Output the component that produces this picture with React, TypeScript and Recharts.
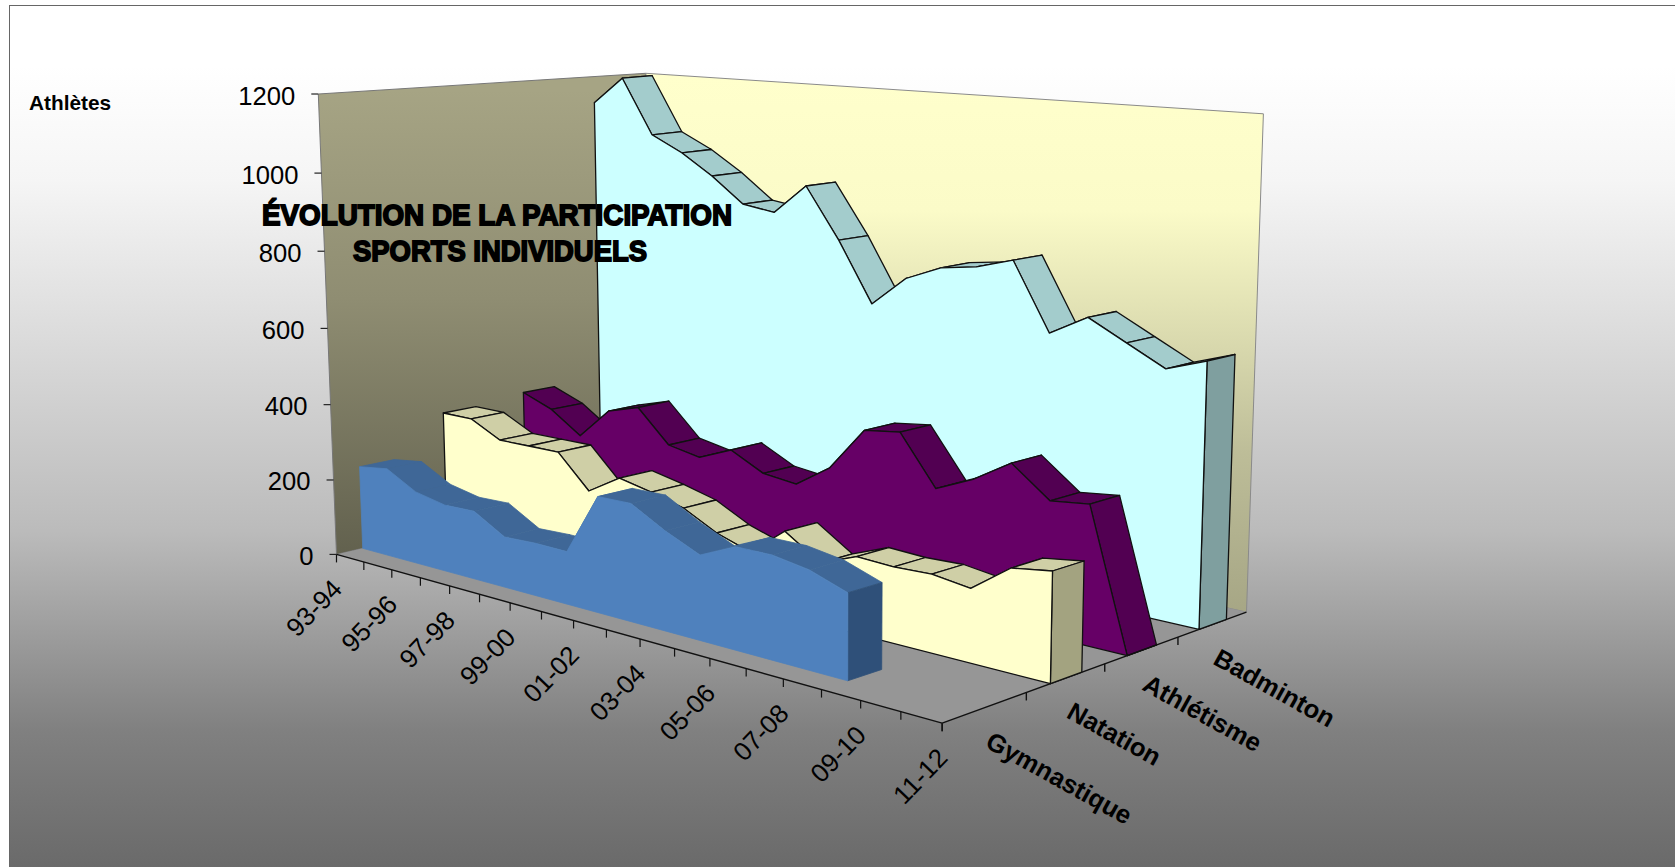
import { ComposedChart, Area, XAxis, YAxis } from "recharts";

const years = ["93-94", "94-95", "95-96", "96-97", "97-98", "98-99", "99-00", "00-01", "01-02", "02-03", "03-04", "04-05", "05-06", "06-07", "07-08", "08-09", "09-10", "10-11", "11-12"];
const badminton = [1116, 1190, 1042, 1001, 947, 881, 869, 948, 817, 663, 741, 780, 794, 822, 655, 707, 659, 611, 644];
const athletisme = [335, 303, 246, 330, 356, 271, 255, 292, 248, 238, 298, 410, 422, 300, 341, 398, 326, 337, 0];
const natation = [321, 321, 280, 281, 282, 197, 249, 231, 209, 165, 137, 209, 151, 187, 183, 187, 175, 243, 257];
const gymnastique = [221, 233, 190, 174, 177, 130, 134, 133, 289, 291, 244, 206, 246, 247, 233, 202, null, null, null];
const yTicks = [0, 200, 400, 600, 800, 1000, 1200];
const depthNames = ["Gymnastique", "Natation", "Athlétisme", "Badminton"];

const W = 1675;
const H = 867;
const plot = { left: 100, top: 50, width: 1475, height: 767 };

// camera: maps (u along years, t along values, z along series) to the page
const S = W / 1568;
function project(u: number, t: number, z: number): [number, number] {
  const w = 1 - 0.196 * u - 0.0358 * t + 0.1185 * z;
  const x = 315 + 394.1 * u - 27.7 * t + 367.3 * z;
  const y = 519 + 25.3 * u - 434.15 * t - 15.7 * z;
  return [(S * x) / w, (S * y) / w];
}
const toPath = (pts: [number, number][]) => "M" + pts.map((p) => p[0].toFixed(1) + "," + p[1].toFixed(1)).join("L") + "Z";
const fromPlot = (cx: number, cy: number) => [(cx - plot.left) / plot.width, (plot.top + plot.height - cy) / plot.height];

function Walls() {
  const line = { stroke: "#111", strokeWidth: 1.4 };
  const front = [project(0, 0, 0), project(1, 0, 0), project(1, 0, 1)];
  const corner = project(0, 0.988, 1);
  return (
    <g>
      <defs>
        <linearGradient id="leftWall" gradientUnits="userSpaceOnUse" x1="0" y1="90" x2="0" y2="555">
          <stop offset="0" stopColor="#a6a484" />
          <stop offset="0.45" stopColor="#8f8d72" />
          <stop offset="1" stopColor="#62614e" />
        </linearGradient>
        <linearGradient id="backWall" gradientUnits="userSpaceOnUse" x1="0" y1="75" x2="0" y2="615">
          <stop offset="0" stopColor="#ffffcc" />
          <stop offset="0.25" stopColor="#fbfbc8" />
          <stop offset="0.7" stopColor="#bdbd98" />
          <stop offset="1" stopColor="#a6a685" />
        </linearGradient>
      </defs>
      <path d={toPath([project(0, 0, 0), project(0, 1, 0), corner, project(0, 0, 1)])} fill="url(#leftWall)" stroke="#777" />
      <path d={toPath([project(0, 0, 1), corner, project(1, 1, 1), project(1, 0, 1)])} fill="url(#backWall)" stroke="#8a8a8a" />
      <path d={toPath([project(0, 0, 0), project(1, 0, 0), project(1, 0, 1), project(0, 0, 1)])} fill="#969696" />
      <line x1={front[0][0]} y1={front[0][1]} x2={front[1][0]} y2={front[1][1]} {...line} />
      <line x1={front[1][0]} y1={front[1][1]} x2={front[2][0]} y2={front[2][1]} {...line} />
      {depthNames.map((name, i) => {
        const tick = project(1, 0, i / 4);
        const mid = project(1, 0, (i + 0.5) / 4);
        const lx = mid[0] - 1;
        const ly = mid[1] + 39;
        return (
          <g key={name}>
            <line x1={tick[0]} y1={tick[1]} x2={tick[0]} y2={tick[1] + 8} {...line} />
            <text x={lx} y={ly} fontFamily="Liberation Sans" fontWeight="bold" fontSize={25.6} fill="#000" transform={`rotate(29 ${lx} ${ly})`}>
              {name}
            </text>
          </g>
        );
      })}
    </g>
  );
}

function YTick(props: any) {
  const [u, t] = fromPlot(plot.left, props.y);
  const p = project(u, t, 0);
  return (
    <g>
      <line x1={p[0] - 7} y1={p[1]} x2={p[0]} y2={p[1]} stroke="#222" strokeWidth={1.2} />
      <text x={p[0] - 23} y={p[1] + 10.5} textAnchor="end" fontFamily="Liberation Sans" fontSize={25.6} fill="#000">
        {props.payload.value}
      </text>
    </g>
  );
}

function XTick(props: any) {
  const [u] = fromPlot(props.x, 0);
  const p = project(u, 0, 0);
  const lx = p[0] + 7;
  const ly = p[1] + 36;
  return (
    <g>
      <line x1={p[0]} y1={p[1]} x2={p[0]} y2={p[1] + 8} stroke="#111" strokeWidth={1.2} />
      {props.index % 2 === 0 && (
        <text x={lx} y={ly} textAnchor="end" fontFamily="Liberation Sans" fontSize={26} fill="#000" transform={`rotate(-46 ${lx} ${ly})`}>
          {props.payload.value}
        </text>
      )}
    </g>
  );
}

// Draws one series as a slab, using the points the Area got from the chart scales
function slab(z0: number, z1: number, face: string, top: string, cap: string, outline?: string) {
  return (props: any) => {
    if (props.index !== 0) return <g key={props.index} />;
    const pts = props.points.filter((p: any) => p.y != null).map((p: any) => fromPlot(p.x, p.y));
    const edge = (fill: string) => ({ fill, stroke: outline ?? fill, strokeWidth: outline ? 1.3 : 0.8, strokeLinejoin: "round" as const });
    const last = pts[pts.length - 1];
    const facePts = [project(pts[0][0], 0, z0), ...pts.map((p: number[]) => project(p[0], p[1], z0)), project(last[0], 0, z0)];
    return (
      <g key="slab">
        {pts.slice(0, -1).map((p: number[], i: number) => {
          const n = pts[i + 1];
          return <path key={i} d={toPath([project(p[0], p[1], z0), project(p[0], p[1], z1), project(n[0], n[1], z1), project(n[0], n[1], z0)])} {...edge(top)} />;
        })}
        <path d={toPath([project(last[0], 0, z0), project(last[0], last[1], z0), project(last[0], last[1], z1), project(last[0], 0, z1)])} {...edge(cap)} />
        <path d={toPath(facePts)} {...edge(face)} />
      </g>
    );
  };
}

const data = years.map((year, i) => ({
  year,
  badminton: badminton[i],
  athletisme: athletisme[i],
  natation: natation[i],
  gymnastique: gymnastique[i],
}));

export default function App() {
  return (
    <div style={{ position: "absolute", left: 0, top: 0, width: W, height: H, overflow: "hidden", background: "#fff" }}>
      <div
        style={{
          position: "absolute",
          left: 9,
          top: 5,
          width: W,
          height: H,
          borderLeft: "1px solid #666",
          borderTop: "1px solid #666",
          background: "linear-gradient(180deg, #ffffff 0px, #ffffff 60px, #f5f5f5 175px, #bbbbbb 525px, #808080 725px, #6a6a6a 862px)",
        }}
      />
      <div style={{ position: "absolute", left: 0, top: 0 }}>
        <ComposedChart width={W} height={H} data={data} margin={{ top: plot.top, left: plot.left - 60, right: W - plot.left - plot.width, bottom: H - plot.top - plot.height - 30 }}>
          <Walls />
          <XAxis dataKey="year" scale="point" interval={0} height={30} axisLine={false} tickLine={false} tick={XTick} />
          <YAxis domain={[0, 1200]} ticks={yTicks} width={60} axisLine={false} tickLine={false} tick={YTick} />
          <Area dataKey="badminton" fill="none" stroke="none" isAnimationActive={false} dot={slab(0.825, 0.925, "#ccffff", "#a3cccc", "#7f9f9f", "#111")} />
          <Area dataKey="athletisme" fill="none" stroke="none" isAnimationActive={false} dot={slab(0.575, 0.675, "#660066", "#520052", "#4d004d", "#111")} />
          <Area dataKey="natation" fill="none" stroke="none" isAnimationActive={false} dot={slab(0.325, 0.425, "#ffffcc", "#cfcfa6", "#a3a380", "#111")} />
          <Area dataKey="gymnastique" fill="none" stroke="none" isAnimationActive={false} dot={slab(0.075, 0.175, "#4f81bd", "#3f6797", "#2f5079")} />
        </ComposedChart>
      </div>
      <svg width={W} height={H} style={{ position: "absolute", left: 0, top: 0 }}>
        <text x={29} y={110} fontFamily="Liberation Sans" fontWeight="bold" fontSize={20.8} fill="#000">
          Athlètes
        </text>
        <text x={262} y={225} fontFamily="Liberation Sans Narrow, Liberation Sans" fontWeight="bold" fontSize={30} stroke="#000" strokeWidth={1.8} textLength={470} lengthAdjust="spacingAndGlyphs">
          ÉVOLUTION DE LA PARTICIPATION
        </text>
        <text x={353} y={261} fontFamily="Liberation Sans Narrow, Liberation Sans" fontWeight="bold" fontSize={30} stroke="#000" strokeWidth={1.8} textLength={294} lengthAdjust="spacingAndGlyphs">
          SPORTS INDIVIDUELS
        </text>
      </svg>
    </div>
  );
}
